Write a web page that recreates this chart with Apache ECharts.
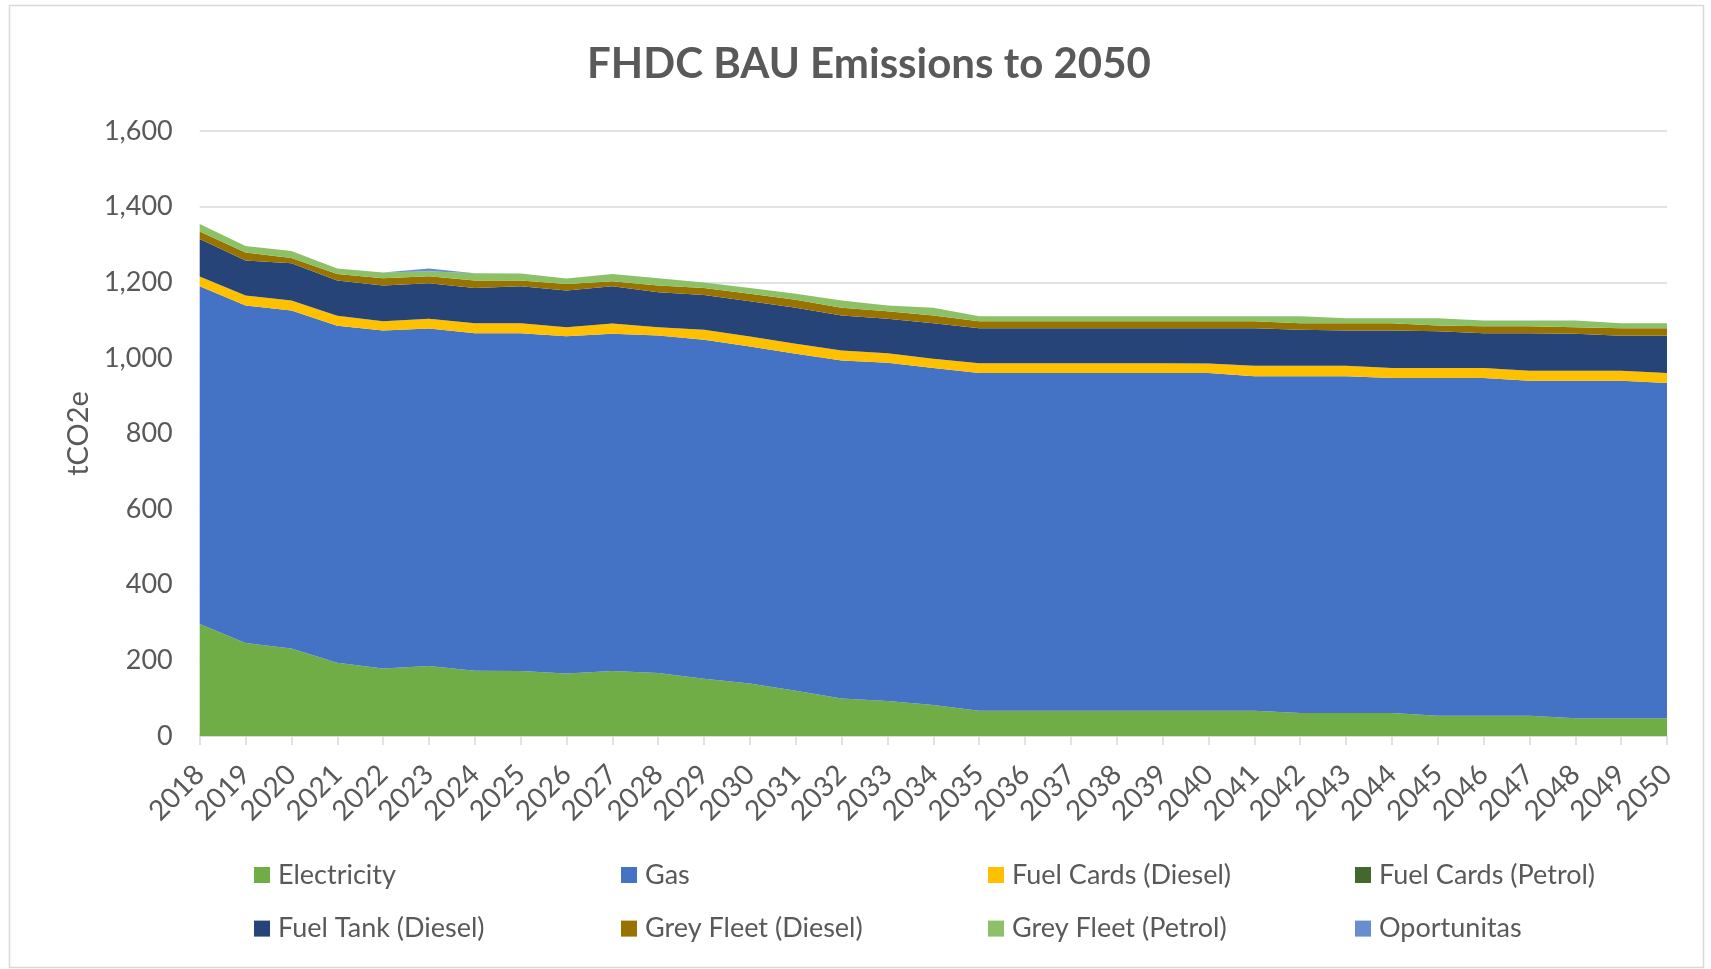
<!DOCTYPE html>
<html>
<head>
<meta charset="utf-8">
<script src="https://cdn.jsdelivr.net/npm/echarts@6/dist/echarts.min.js"></script>
<style>
  html, body { margin: 0; padding: 0; background: #ffffff; }
  #chart { width: 1711px; height: 969px; }
</style>
</head>
<body>
<div id="chart"></div>
<script>
const years = ['2018','2019','2020','2021','2022','2023','2024','2025','2026','2027','2028','2029','2030','2031','2032','2033','2034','2035','2036','2037','2038','2039','2040','2041','2042','2043','2044','2045','2046','2047','2048','2049','2050'];

const electricity = [295.9,245.7,231.6,193.7,178.8,184.9,172.6,171.7,165.6,171.7,166.4,151.5,139.1,119.8,99.5,92.5,81.9,66.5,66.5,66.5,66.5,66.5,66.5,66.5,60.8,60.8,60.8,53.7,53.7,53.7,46.7,46.7,46.7];
const gas = [893.6,892.8,893.7,891.0,893.6,892.8,892.8,893.7,891.8,891.9,892.8,896.2,891.0,891.0,893.6,894.5,891.0,893.2,893.2,893.2,893.2,893.2,893.2,885.2,890.9,890.9,885.7,892.8,892.8,885.7,892.7,892.7,886.6];
const fuelCardsDiesel = [25.6,26.4,26.4,26.5,24.7,25.5,26.4,26.4,23.8,27.3,22.0,26.5,26.4,26.4,26.5,25.5,24.6,26.4,26.4,26.4,26.4,26.4,25.5,27.3,27.3,27.3,26.4,26.4,26.4,26.4,26.4,26.4,26.4];
const fuelCardsPetrol = [0,0,0,0,0,0,0,0,0,0,0,0,0,0,0,0,0,0,0,0,0,0,0,0,0,0,0,0,0,0,0,0,0];
const fuelTankDiesel = [99.5,92.5,98.6,93.3,94.2,94.3,93.3,97.7,96.9,98.6,92.5,92.4,93.4,95.1,92.4,90.7,94.3,92.5,92.5,92.5,92.5,92.5,93.4,99.6,95.2,93.4,99.5,97.7,92.5,99.6,97.8,92.5,98.6];
const greyFleetDiesel = [19.4,21.1,14.1,17.6,19.4,18.5,19.4,15.0,17.6,13.3,17.6,18.5,19.4,21.1,20.3,20.3,20.2,18.5,18.5,18.5,18.5,18.5,18.5,18.5,17.6,19.4,19.4,15.0,18.5,18.5,17.6,20.3,20.3];
const greyFleetPetrol = [20.2,17.6,18.5,14.1,14.9,13.2,19.4,18.5,14.1,19.3,19.4,14.1,15.8,15.9,19.4,15.0,20.3,13.2,13.2,13.2,13.2,13.2,13.2,13.2,18.5,13.2,13.2,19.4,14.9,14.9,17.6,13.2,13.2];
const oportunitas = [0,0,0,0,0,7,0,0,0,0,0,0,0,0,0,0,0,0,0,0,0,0,0,0,0,0,0,0,0,0,0,0,0];

const seriesNames = ['Electricity','Gas','Fuel Cards (Diesel)','Fuel Cards (Petrol)','Fuel Tank (Diesel)','Grey Fleet (Diesel)','Grey Fleet (Petrol)','Oportunitas'];
const seriesData = [electricity, gas, fuelCardsDiesel, fuelCardsPetrol, fuelTankDiesel, greyFleetDiesel, greyFleetPetrol, oportunitas];
const colors = ['#70AD47','#4472C4','#FFC000','#43682B','#264478','#997300','#8CC168','#698ED0'];

const FONT = 'Lato, "Open Sans", sans-serif';
const TXT = '#595959';

const chart = echarts.init(document.getElementById('chart'), null, { renderer: 'canvas' });

const series = seriesNames.map((name, i) => ({
  name: name,
  type: 'line',
  stack: 'total',
  data: seriesData[i],
  showSymbol: false,
  symbol: 'none',
  lineStyle: { width: 0, color: colors[i] },
  itemStyle: { color: colors[i] },
  areaStyle: { color: colors[i], opacity: 1 },
  emphasis: { disabled: true },
  silent: true,
  animation: false
}));

const legendCols = [
  ['Electricity','Fuel Tank (Diesel)'],
  ['Gas','Grey Fleet (Diesel)'],
  ['Fuel Cards (Diesel)','Grey Fleet (Petrol)'],
  ['Fuel Cards (Petrol)','Oportunitas']
];
const legendLeft = [254, 621, 988, 1355];
const legends = legendCols.map((names, c) => ({
  data: names,
  orient: 'vertical',
  left: legendLeft[c],
  top: 860,
  padding: 0,
  itemGap: 23.6,
  itemWidth: 16,
  itemHeight: 16,
  icon: 'rect',
  selectedMode: false,
  textStyle: { fontFamily: FONT, fontSize: 27, color: TXT, lineHeight: 30, padding: [0,0,0,3] }
}));

chart.setOption({
  backgroundColor: '#ffffff',
  animation: false,
  color: colors,
  title: {
    text: 'FHDC BAU Emissions to 2050',
    left: 864,
    textAlign: 'center',
    top: 38,
    textStyle: { fontFamily: FONT, fontSize: 42, fontWeight: 'bold', color: TXT }
  },
  legend: legends,
  grid: { left: 199.7, right: 44, top: 131, bottom: 233, containLabel: false },
  xAxis: {
    type: 'category',
    data: years,
    boundaryGap: false,
    axisLine: { show: true, lineStyle: { color: '#D9D9D9', width: 1.5 } },
    axisTick: { show: true, alignWithLabel: true, length: 9, lineStyle: { color: '#D9D9D9', width: 1.5 } },
    axisLabel: { rotate: 45, interval: 0, margin: 34, fontFamily: FONT, fontSize: 28, color: TXT },
    splitLine: { show: false }
  },
  yAxis: {
    type: 'value',
    min: 0,
    max: 1600,
    interval: 200,
    name: 'tCO2e',
    nameLocation: 'middle',
    nameGap: 106,
    nameTextStyle: { fontFamily: FONT, fontSize: 29, color: TXT },
    axisLine: { show: false },
    axisTick: { show: false },
    axisLabel: {
      margin: 27,
      fontFamily: FONT,
      fontSize: 27,
      color: TXT,
      formatter: v => v.toLocaleString('en-US')
    },
    splitLine: { lineStyle: { color: '#D9D9D9', width: 1.5 } }
  },
  graphic: [{
    type: 'rect',
    shape: { x: 9.5, y: 5.5, width: 1694, height: 962 },
    style: { fill: 'none', stroke: '#D9D9D9', lineWidth: 1.5 },
    silent: true,
    z: -1
  }],
  series: series
});
</script>
</body>
</html>
